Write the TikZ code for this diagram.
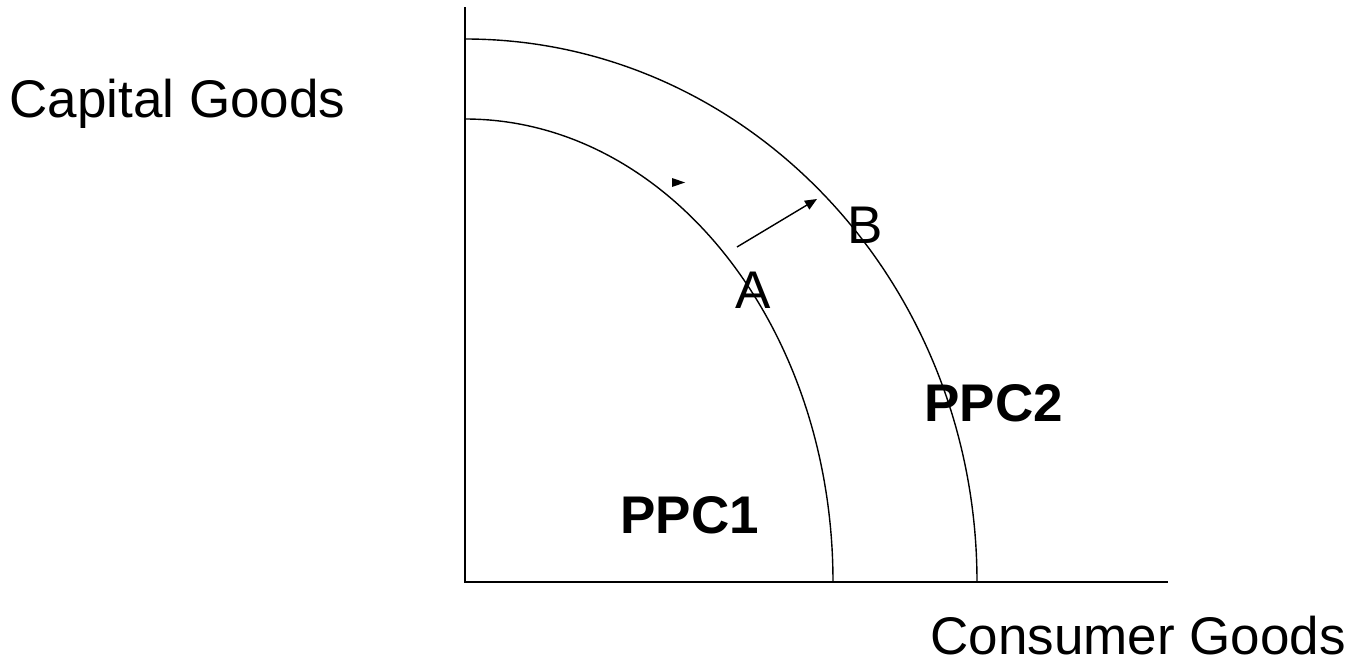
\documentclass[tikz,border=0pt]{standalone}
\usepackage{fontspec}
\setmainfont{Liberation Sans}
\usetikzlibrary{arrows.meta}
\begin{document}
\begin{tikzpicture}[x=0.5pt,y=-0.5pt,
  lbl/.style={inner sep=0pt,anchor=base west,font=\fontsize{26.5}{30}\selectfont},
  blbl/.style={lbl,font=\fontsize{26.5}{30}\selectfont\bfseries},
  axisline/.style={line width=0.9pt},
  curve/.style={line width=0.7pt},
  shiftarrow/.style={line width=0.7pt,-{Triangle[length=6pt,width=5pt]}}]
\useasboundingbox (0,0) rectangle (1351,664);
% axes
\coordinate (ytop) at (465,7);
\coordinate (O) at (465,582);
\coordinate (xend) at (1168,582);
\draw[axisline] (ytop) -- (O) -- (xend);
% curves
\coordinate (c1top) at (465,119);
\coordinate (c2top) at (465,39);
\draw[curve] (c1top) arc[start angle=90,end angle=0,x radius=184pt,y radius=231.5pt];
\draw[curve] (c2top) arc[start angle=90,end angle=0,x radius=256pt,y radius=271.5pt];
% arrow A -> B
\coordinate (a1) at (737,247);
\coordinate (a2) at (817,199);
\draw[shiftarrow] (a1) -- (a2);
% stray small arrowhead
\coordinate (t1) at (672,178);
\coordinate (t2) at (685,182.5);
\coordinate (t3) at (672,187);
\fill (t1) -- (t2) -- (t3) -- cycle;
% labels
\node[lbl] (cap) at (9,117) {Capital Goods};
\node[lbl] (con) at (930,654) {Consumer Goods};
\node[lbl] (A) at (735,308) {A};
\node[lbl] (B) at (847,243) {B};
\node[blbl] (ppc1) at (620,533) {PPC1};
\node[blbl] (ppc2) at (924,421) {PPC2};
\end{tikzpicture}
\end{document}
